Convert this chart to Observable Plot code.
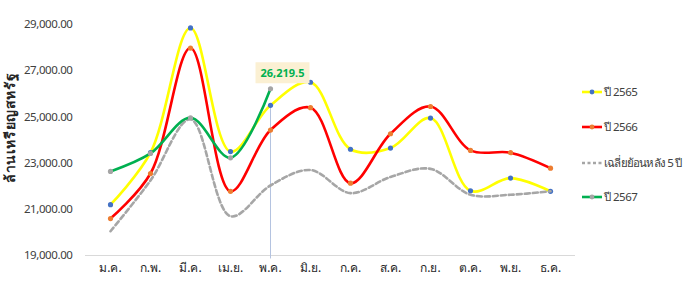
<!DOCTYPE html>
<html><head><meta charset="utf-8">
<script src="https://cdn.jsdelivr.net/npm/d3@7"></script>
<script src="https://cdn.jsdelivr.net/npm/@observablehq/plot@0.6"></script>
<style>
body{margin:0;background:#fff;font-family:"Noto Sans",sans-serif;}
#wrap{position:relative;width:683px;height:290px;overflow:hidden}
#legend{position:absolute;left:582px;top:0;width:110px;height:290px}
.item{position:absolute;left:0;display:flex;align-items:center;white-space:nowrap;font-size:11.5px;color:#404040;letter-spacing:-0.5px}
.item svg{margin-right:2px}
</style></head><body><div id="wrap"><div id="chart"></div><div id="legend"></div></div>
<script>
const months = ["ม.ค.","ก.พ.","มี.ค.","เม.ย.","พ.ค.","มิ.ย.","ก.ค.","ส.ค.","ก.ย.","ต.ค.","พ.ย.","ธ.ค."];
const y2565 = [21200, 23450, 28850, 23500, 25500, 26500, 23600, 23650, 24950, 21800, 22350, 21780];
const y2566 = [20600, 22550, 27980, 21780, 24430, 25400, 22130, 24270, 25450, 23550, 23450, 22780];
const avg5  = [20050, 22250, 24900, 20700, 22030, 22700, 21700, 22400, 22750, 21630, 21630, 21780];
const y2567 = [22640, 23420, 24960, 23230, 26219.5];
const yTicks = [19000, 21000, 23000, 25000, 27000, 29000];
const yLabel = "ล้านเหรียญสหรัฐ";

const series = [
  {name:"ปี 2565", values:y2565, color:"#ffff00", marker:"#4472c4", dash:null},
  {name:"ปี 2566", values:y2566, color:"#ff0000", marker:"#ed7d31", dash:null},
  {name:"เฉลี่ยย้อนหลัง 5 ปี", values:avg5, color:"#a6a6a6", marker:null, dash:"5,3"},
  {name:"ปี 2567", values:y2567, color:"#00b050", marker:"#a5a5a5", dash:null}
];
const rows = (s) => s.values.map((v,i)=>({m:months[i], v, s:s.name}));
const tipText = d3.format(",.1f")(y2567[4]);

const marks = [
  Plot.ruleY([19000], {stroke:"#d9d9d9", strokeWidth:1}),
  Plot.ruleX([{m:months[4], v:y2565[4]}], {x:"m", y1:()=>18850, y2:"v", stroke:"#b4c3e0", strokeWidth:1}),
];
for (const s of series) {
  marks.push(Plot.line(rows(s), {x:"m", y:"v", stroke:s.color, strokeWidth:2.6, curve:"catmull-rom", strokeDasharray:s.dash}));
  if (s.marker) marks.push(Plot.dot(rows(s), {x:"m", y:"v", r:2.6, fill:s.marker, stroke:"none"}));
}
marks.push(Plot.text([{m:months[4], v:y2567[4]}], {x:"m", y:"v", text:()=>tipText, dx:12, dy:-15, fill:"#00b050", fontWeight:"bold", fontSize:11}));
marks.push(Plot.text([yLabel], {frameAnchor:"left", text:d=>d, rotate:-90, fontSize:14, fill:"#262626", fontWeight:"600"}));
marks.push(Plot.axisY({ticks:yTicks, tickFormat:d3.format(",.2f"), tickSize:0, tickPadding:13, fontSize:11.5, label:null, color:"#404040"}));
marks.push(Plot.axisX({tickSize:0, tickPadding:8, fontSize:12, label:null, color:"#262626"}));

const chart = Plot.plot({
  width:683, height:290,
  marginLeft:85, marginRight:108, marginTop:24, marginBottom:35,
  style:{fontFamily:"'Noto Sans', sans-serif", background:"#fff"},
  x:{type:"point", domain:months, padding:0.5},
  y:{domain:[19000,29000]},
  marks
});
document.getElementById("chart").appendChild(chart);

for (const t of chart.querySelectorAll("text")) {
  // condensed tick labels on the y axis
  if (/^\d{2},\d{3}\.\d{2}$/.test(t.textContent)) t.setAttribute("letter-spacing","-0.4");
  // place the rotated axis title, centred
  if (t.textContent === yLabel) {
    t.removeAttribute("x"); t.removeAttribute("y");
    t.setAttribute("text-anchor","middle");
    t.setAttribute("letter-spacing","0.6");
    t.setAttribute("dy","0.35em");
    t.setAttribute("transform","translate(10,128) rotate(-90)");
    if (t.parentNode.getAttribute("transform")) t.parentNode.removeAttribute("transform");
  }
  // background box for the value label
  if (t.textContent === tipText) {
    const b = t.getBBox();
    const r = document.createElementNS("http://www.w3.org/2000/svg","rect");
    r.setAttribute("x", b.x-5); r.setAttribute("y", b.y-3);
    r.setAttribute("width", b.width+10); r.setAttribute("height", b.height+6);
    r.setAttribute("fill", "#fbf0d3");
    const tr = t.getAttribute("transform");
    if (tr) r.setAttribute("transform", tr);
    t.parentNode.insertBefore(r, t);
  }
}

// legend
const legend = document.getElementById("legend");
const legendY = [92, 127, 163, 197];
series.forEach((s,i)=>{
  const d = document.createElement("div");
  d.className = "item";
  d.style.top = (legendY[i]-9)+"px";
  if (s.dash) d.style.letterSpacing = "-0.8px";
  const mk = s.marker ? `<circle cx="10" cy="4" r="2.4" fill="${s.marker}"/>` : "";
  d.innerHTML = `<svg width="20" height="8"><line x1="0" y1="4" x2="20" y2="4" stroke="${s.color}" stroke-width="2.6" ${s.dash?`stroke-dasharray="3,2.5"`:""}/>${mk}</svg><span>${s.name}</span>`;
  legend.appendChild(d);
});
</script></body></html>
